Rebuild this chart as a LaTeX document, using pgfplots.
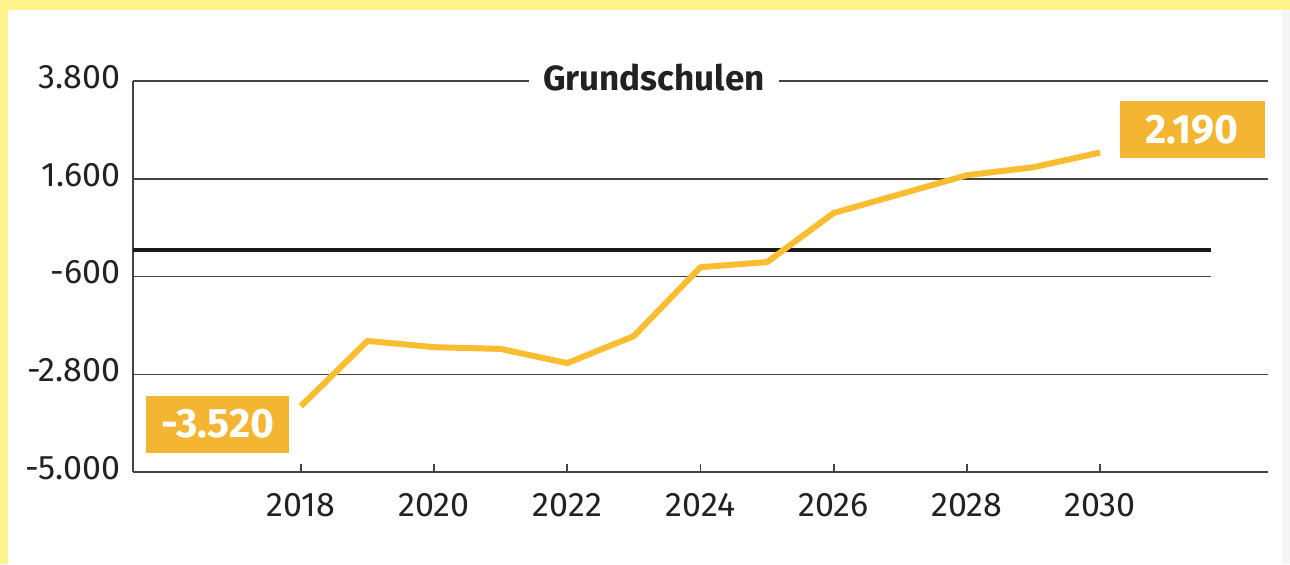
\documentclass[border=0pt]{standalone}
\usepackage{fontspec}
\setmainfont{Fira Sans}
\usepackage{pgfplots}
\pgfplotsset{compat=1.18}
\definecolor{bg}{HTML}{FFF48C}
\definecolor{linec}{HTML}{F8BD30}
\definecolor{boxc}{HTML}{F4B632}
\definecolor{txt}{HTML}{222222}

\begin{document}
\begin{tikzpicture}
% yellow frame and white panel (1px = 0.5pt)
\fill[bg] (-66.5pt,-46pt) rectangle (578.5pt,236pt);
\fill[white] (-62.5pt,-46pt) rectangle (578.5pt,231pt);
\fill[black!4] (574.5pt,-46pt) rectangle (578.5pt,231pt);
\begin{axis}[
    at={(0pt,0pt)}, anchor=south west,
    scale only axis, width=567.5pt, height=195.5pt,
    xmin=2015.48, xmax=2032.52, ymin=-5000, ymax=3800,
    axis x line=bottom, axis y line=left,
    axis line style={-, draw=txt!85, line width=0.8pt},
    xtick={2018,2020,2022,2024,2026,2028,2030},
    xticklabels={2018,2020,2022,2024,2026,2028,2030},
    ytick={-5000,-2800,-600,1600,3800},
    yticklabels={-5.000,-2.800,-600,1.600,3.800},
    tick align=inside, major tick length=4pt,
    ytick style={draw=none},
    xtick style={draw=txt!85, line width=0.8pt},
    ticklabel style={font=\fontsize{17}{20}\selectfont, text=txt},
    xticklabel style={yshift=-7pt},
    yticklabel style={xshift=-2.7pt, yshift=2pt},
    clip=false,
]
% grid lines
\draw[txt!85, line width=0.75pt] (axis cs:2015.48,3800) -- (axis cs:2032.52,3800);
\draw[txt!85, line width=0.75pt] (axis cs:2015.48,1600) -- (axis cs:2032.52,1600);
\draw[txt!85, line width=0.75pt] (axis cs:2015.48,-600) -- (axis cs:2031.66,-600);
\draw[txt!85, line width=0.75pt] (axis cs:2015.48,-2800) -- (axis cs:2032.52,-2800);
\draw[black!90, line width=2.2pt] (axis cs:2015.48,0) -- (axis cs:2031.66,0);

\node[fill=white, inner xsep=7pt, inner ysep=3pt, anchor=base, yshift=-4.5pt,
      font=\fontsize{17.5}{21}\selectfont\bfseries, text=txt]
      at (axis cs:2023.3,3800) {Grundschulen};

\addplot[linec, line width=3pt, line join=round] coordinates {
    (2018,-3520)(2019,-2050)(2020,-2190)(2021,-2230)(2022,-2550)(2023,-1940)
    (2024,-390)(2025,-275)(2026,830)(2027,1255)(2028,1680)(2029,1860)(2030,2190)
};

\node[fill=boxc, text=white, font=\fontsize{20.5}{24}\selectfont\bfseries,
      minimum width=71.5pt, minimum height=28.5pt, inner sep=0pt,
      anchor=north east, xshift=-5.5pt, yshift=5.5pt]
      at (axis cs:2018,-3520) {-3.520};
\node[fill=boxc, text=white, font=\fontsize{20.5}{24}\selectfont\bfseries,
      minimum width=72.5pt, minimum height=28.5pt, inner sep=0pt,
      anchor=south west, xshift=9.5pt, yshift=-3pt]
      at (axis cs:2030,2190) {2.190};
\end{axis}
\end{tikzpicture}
\end{document}
